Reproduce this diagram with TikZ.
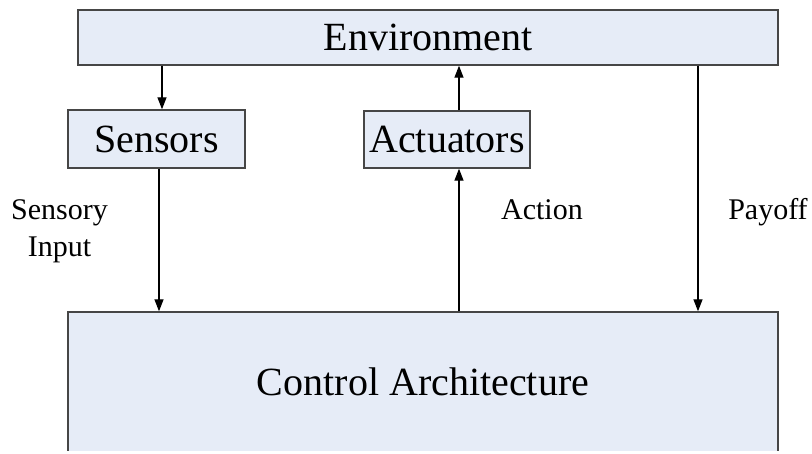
\documentclass[tikz,border=0pt]{standalone}
\usepackage{fontspec}
\setmainfont{Liberation Serif}
\usetikzlibrary{arrows.meta}
\definecolor{boxfill}{RGB}{230,236,247}
\definecolor{boxline}{RGB}{70,70,70}
\tikzset{
  block/.style={draw=boxline, line width=1.4pt, fill=boxfill, inner sep=0pt,
    font=\fontsize{40}{46}\selectfont},
  arr/.style={line width=1.3pt, -{Triangle[length=12pt,width=9pt]}},
  lab/.style={font=\fontsize{30}{37}\selectfont, inner sep=0pt, align=center}
}
\begin{document}
\begin{tikzpicture}[x=1pt,y=-1pt]
\useasboundingbox (0,0) rectangle (812,453);
\clip (0,0) rectangle (812,450.5);

% boxes
\node[block, minimum width=700pt, minimum height=55pt] (env) at (428,37.5) {Environment};
\node[block, minimum width=177pt, minimum height=58pt] (sens) at (156.5,139) {Sensors};
\node[block, minimum width=166pt, minimum height=57pt] (act) at (447,139.5) {Actuators};
\node[block, minimum width=710pt, minimum height=140pt] (ctrl) at (423,382) {Control Architecture};

% x positions of the connectors
\coordinate (xa) at (162,0);
\coordinate (xb) at (159,0);
\coordinate (xc) at (459,0);
\coordinate (xd) at (698,0);

% connectors
\draw[arr] (env.south -| xa) -- (sens.north -| xa);
\draw[arr] (sens.south -| xb) -- (ctrl.north -| xb);
\draw[arr] (ctrl.north -| xc) -- (act.south -| xc);
\draw[arr] (act.north -| xc) -- (env.south -| xc);
\draw[arr] (env.south -| xd) -- (ctrl.north -| xd);

% labels
\node[lab, anchor=north] (lsens) at (59.5,199.5) {Sensory\\Input};
\node[lab, anchor=base] (lact) at (542,219) {Action};
\node[lab, anchor=base] (lpay) at (768,219) {Payoff};
\end{tikzpicture}
\end{document}
